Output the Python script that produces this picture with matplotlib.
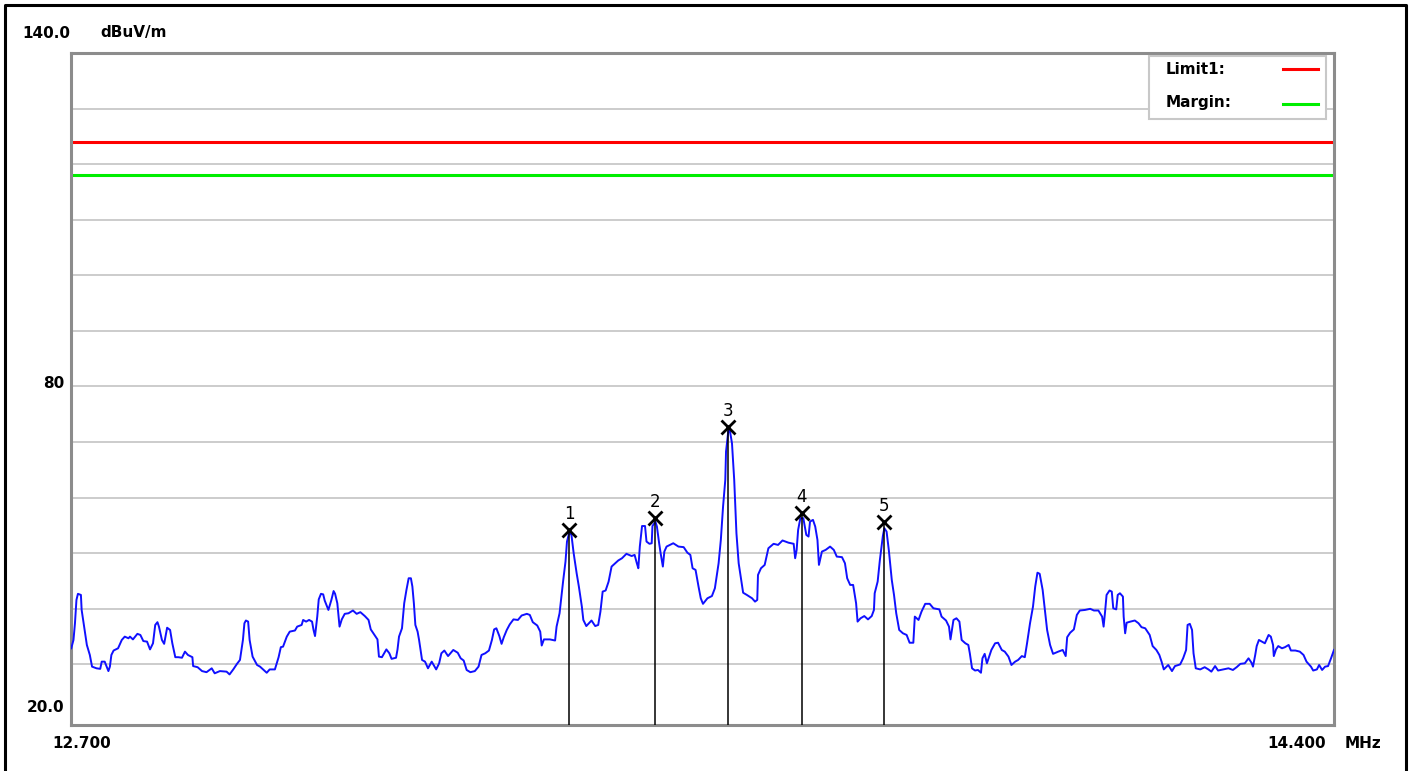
import matplotlib
matplotlib.use("Agg")
import matplotlib.pyplot as plt
from matplotlib.lines import Line2D
from matplotlib.patches import Rectangle

# spectrum trace (MHz, dBuV/m)
freq_mhz = [
    12.701, 12.704, 12.706, 12.708, 12.710, 12.714, 12.715, 12.718, 12.722, 12.726,
    12.729, 12.735, 12.740, 12.742, 12.746, 12.751, 12.753, 12.755, 12.758, 12.764,
    12.769, 12.773, 12.778, 12.780, 12.784, 12.790, 12.794, 12.798, 12.803, 12.807,
    12.811, 12.814, 12.817, 12.819, 12.823, 12.826, 12.828, 12.830, 12.834, 12.837,
    12.841, 12.845, 12.850, 12.854, 12.858, 12.864, 12.865, 12.871, 12.877, 12.883,
    12.890, 12.894, 12.901, 12.910, 12.914, 12.919, 12.924, 12.928, 12.932, 12.934,
    12.936, 12.939, 12.941, 12.945, 12.951, 12.955, 12.960, 12.964, 12.968, 12.975,
    12.980, 12.983, 12.986, 12.991, 12.995, 13.002, 13.005, 13.011, 13.013, 13.017,
    13.021, 13.025, 13.027, 13.029, 13.032, 13.034, 13.037, 13.040, 13.042, 13.047,
    13.051, 13.054, 13.056, 13.059, 13.062, 13.065, 13.069, 13.074, 13.080, 13.085,
    13.090, 13.096, 13.101, 13.104, 13.108, 13.113, 13.115, 13.119, 13.122, 13.125,
    13.129, 13.132, 13.138, 13.140, 13.142, 13.146, 13.149, 13.152, 13.155, 13.158,
    13.160, 13.162, 13.164, 13.167, 13.169, 13.173, 13.177, 13.181, 13.186, 13.192,
    13.196, 13.199, 13.203, 13.208, 13.215, 13.221, 13.225, 13.229, 13.233, 13.238,
    13.244, 13.249, 13.253, 13.258, 13.263, 13.267, 13.270, 13.273, 13.277, 13.280,
    13.283, 13.287, 13.291, 13.296, 13.302, 13.307, 13.314, 13.318, 13.322, 13.328,
    13.332, 13.334, 13.337, 13.345, 13.352, 13.354, 13.358, 13.361, 13.363, 13.366,
    13.368, 13.371, 13.374, 13.377, 13.381, 13.384, 13.388, 13.390, 13.394, 13.401,
    13.406, 13.410, 13.413, 13.416, 13.420, 13.424, 13.428, 13.433, 13.437, 13.442,
    13.448, 13.455, 13.459, 13.462, 13.464, 13.466, 13.469, 13.473, 13.475, 13.479,
    13.482, 13.483, 13.487, 13.489, 13.492, 13.494, 13.497, 13.499, 13.502, 13.511,
    13.518, 13.525, 13.530, 13.534, 13.537, 13.541, 13.545, 13.548, 13.551, 13.557,
    13.563, 13.567, 13.572, 13.575, 13.578, 13.581, 13.582, 13.585, 13.587, 13.590,
    13.593, 13.596, 13.599, 13.602, 13.605, 13.610, 13.617, 13.621, 13.624, 13.625,
    13.629, 13.634, 13.639, 13.646, 13.652, 13.658, 13.666, 13.673, 13.675, 13.677,
    13.679, 13.682, 13.686, 13.690, 13.693, 13.695, 13.699, 13.702, 13.705, 13.707,
    13.711, 13.716, 13.722, 13.727, 13.731, 13.738, 13.742, 13.745, 13.749, 13.753,
    13.757, 13.759, 13.763, 13.768, 13.773, 13.778, 13.781, 13.782, 13.786, 13.789,
    13.793, 13.795, 13.798, 13.801, 13.805, 13.808, 13.811, 13.815, 13.820, 13.825,
    13.829, 13.834, 13.836, 13.841, 13.845, 13.850, 13.856, 13.861, 13.869, 13.872,
    13.878, 13.882, 13.884, 13.888, 13.892, 13.896, 13.899, 13.904, 13.908, 13.910,
    13.913, 13.917, 13.921, 13.925, 13.927, 13.930, 13.933, 13.936, 13.939, 13.944,
    13.948, 13.953, 13.957, 13.962, 13.966, 13.971, 13.975, 13.980, 13.984, 13.987,
    13.991, 13.995, 13.998, 14.001, 14.004, 14.008, 14.011, 14.014, 14.018, 14.022,
    14.029, 14.035, 14.039, 14.041, 14.045, 14.050, 14.054, 14.058, 14.065, 14.072,
    14.077, 14.083, 14.088, 14.090, 14.092, 14.094, 14.098, 14.101, 14.103, 14.107,
    14.109, 14.112, 14.116, 14.117, 14.119, 14.121, 14.126, 14.132, 14.137, 14.141,
    14.146, 14.150, 14.152, 14.156, 14.161, 14.165, 14.168, 14.171, 14.177, 14.182,
    14.186, 14.193, 14.197, 14.201, 14.203, 14.206, 14.209, 14.211, 14.214, 14.220,
    14.226, 14.231, 14.235, 14.240, 14.244, 14.251, 14.258, 14.264, 14.269, 14.274,
    14.280, 14.285, 14.289, 14.291, 14.294, 14.296, 14.299, 14.303, 14.307, 14.312,
    14.315, 14.318, 14.319, 14.322, 14.325, 14.330, 14.334, 14.339, 14.342, 14.348,
    14.354, 14.359, 14.363, 14.369, 14.372, 14.377, 14.380, 14.384, 14.388, 14.392,
    14.396, 14.400,
]
level_dbuv = [
    32.9, 34.4, 37.4, 41.6, 42.7, 42.5, 39.8, 37.1, 33.5, 31.7,
    29.6, 29.3, 29.2, 30.5, 30.5, 28.8, 29.6, 31.7, 32.5, 32.9,
    34.4, 35.0, 34.7, 35.0, 34.5, 35.5, 35.3, 34.2, 34.1, 32.7,
    33.8, 37.1, 37.6, 36.8, 34.4, 33.7, 35.1, 36.6, 36.2, 33.8,
    31.3, 31.3, 31.2, 32.3, 31.7, 31.3, 29.7, 29.5, 28.8, 28.6,
    29.3, 28.4, 28.8, 28.7, 28.2, 29.1, 30.1, 30.8, 34.4, 37.4,
    37.9, 37.7, 34.4, 31.4, 29.9, 29.6, 29.0, 28.5, 29.1, 29.1,
    31.3, 33.1, 33.2, 35.0, 35.9, 36.1, 36.8, 37.1, 38.0, 37.7,
    38.0, 37.7, 36.2, 35.1, 38.6, 41.7, 42.7, 42.6, 41.5, 39.8,
    41.6, 43.2, 42.7, 41.0, 36.8, 38.1, 39.1, 39.2, 39.7, 39.1,
    39.4, 38.7, 38.0, 36.3, 35.5, 34.5, 31.4, 31.3, 32.0, 32.7,
    32.0, 31.0, 31.2, 32.7, 35.0, 36.5, 41.0, 43.4, 45.5, 45.5,
    44.0, 41.0, 37.1, 35.9, 34.4, 30.8, 30.5, 29.3, 30.5, 29.1,
    30.2, 32.0, 32.5, 31.5, 32.6, 32.1, 31.1, 30.7, 29.0, 28.6,
    28.8, 29.6, 31.7, 32.0, 32.5, 34.4, 36.3, 36.5, 35.1, 33.7,
    34.9, 36.2, 37.2, 38.1, 38.0, 38.8, 39.1, 38.9, 37.6, 37.0,
    35.9, 33.4, 34.5, 34.5, 34.3, 36.8, 39.2, 42.8, 45.2, 48.5,
    52.1, 53.7, 53.3, 50.0, 46.4, 44.0, 40.4, 38.0, 36.9, 37.9,
    36.9, 37.1, 39.5, 43.1, 43.3, 44.9, 47.6, 48.2, 48.7, 49.1,
    49.9, 49.5, 49.7, 48.2, 47.3, 51.2, 54.9, 54.9, 52.1, 51.7,
    51.8, 54.9, 55.7, 54.8, 51.8, 50.0, 47.6, 50.3, 51.2, 51.8,
    51.2, 51.1, 50.1, 49.7, 47.3, 47.0, 44.0, 41.9, 40.9, 41.9,
    42.3, 43.7, 48.2, 52.4, 58.4, 63.2, 68.3, 71.9, 72.2, 69.8,
    63.2, 53.6, 48.2, 45.5, 42.9, 42.5, 41.9, 41.3, 41.6, 46.1,
    47.3, 47.9, 50.9, 51.7, 51.5, 52.3, 51.9, 51.7, 49.1, 50.6,
    54.2, 56.3, 56.3, 53.3, 53.0, 55.7, 56.0, 54.8, 52.4, 47.9,
    50.3, 50.6, 51.2, 50.6, 49.4, 49.3, 48.2, 45.5, 44.3, 44.3,
    41.0, 37.7, 38.3, 38.7, 38.1, 38.7, 39.8, 42.8, 44.9, 48.8,
    53.1, 54.5, 53.9, 50.6, 45.2, 42.5, 39.2, 36.2, 35.6, 35.3,
    33.9, 33.9, 38.6, 38.0, 39.5, 40.9, 40.9, 40.1, 39.9, 38.6,
    37.9, 36.8, 34.5, 38.0, 38.3, 37.7, 34.4, 33.8, 33.5, 32.0,
    29.3, 28.9, 29.0, 28.5, 31.1, 31.9, 30.2, 31.4, 32.6, 33.8,
    33.9, 32.6, 32.3, 31.4, 29.9, 30.5, 30.8, 31.5, 31.3, 33.8,
    37.4, 40.4, 44.0, 46.5, 46.3, 43.4, 39.8, 36.2, 33.5, 31.9,
    32.3, 32.6, 31.5, 34.9, 35.7, 36.3, 38.9, 39.7, 39.8, 40.0,
    39.7, 39.7, 38.6, 36.8, 39.5, 42.5, 43.3, 43.1, 40.1, 39.9,
    42.5, 42.8, 42.2, 38.6, 35.6, 37.5, 37.7, 37.9, 37.4, 36.7,
    36.5, 35.7, 35.3, 33.3, 32.6, 31.7, 30.5, 29.1, 29.9, 28.8,
    29.7, 30.0, 31.1, 32.6, 37.1, 37.3, 36.2, 32.0, 29.3, 29.1,
    29.5, 29.1, 28.7, 29.7, 28.9, 29.1, 29.3, 29.0, 29.5, 30.1,
    30.2, 31.1, 30.3, 29.6, 31.7, 33.3, 34.4, 34.1, 33.8, 35.3,
    35.0, 33.5, 31.5, 32.7, 33.3, 32.9, 33.1, 33.5, 32.5, 32.5,
    32.3, 31.7, 30.5, 29.6, 28.9, 29.1, 29.9, 29.0, 29.6, 29.7,
    31.1, 32.6,
]

marker_freq = [13.371, 13.486, 13.584, 13.684, 13.795]
marker_level = [54.2, 56.3, 72.8, 57.2, 55.7]
marker_labels = ["1", "2", "3", "4", "5"]

limit1 = 124.0
margin = 118.0
y_min, y_max = 19.1, 140.0
f_min, f_max = 12.7, 14.4

W, H = 1411, 771
plt.rcParams['font.family'] = ['DejaVu Sans']

fig = plt.figure(figsize=(W / 100, H / 100), dpi=100)
fig.patch.set_facecolor('white')


def fx(px):
    return px / W


def fy(py):
    return 1 - py / H


ax = fig.add_axes([fx(70.5), fy(725), (1334 - 70.5) / W, (725 - 53) / H])
ax.set_xlim(f_min, f_max)
ax.set_ylim(y_min, y_max)
ax.set_xticks([])
ax.set_yticks([])
for sp in ax.spines.values():
    sp.set_color('#8c8c8c')
    sp.set_linewidth(2.2)

for y in range(30, 140, 10):
    ax.axhline(y, color='#cccccc', lw=1.4, zorder=1)

ax.axhline(limit1, color='#ff0000', lw=2.2, zorder=2)
ax.axhline(margin, color='#00ee00', lw=2.2, zorder=2)

ax.plot(freq_mhz, level_dbuv, color='#1010ff', lw=1.4, zorder=3)

# markers with drop lines
ax.vlines(marker_freq, y_min, marker_level, color='black', lw=1.1, zorder=4)
ax.plot(marker_freq, marker_level, 'x', color='black', ms=10, mew=2, zorder=5)
for f, l, s in zip(marker_freq, marker_level, marker_labels):
    ax.annotate(s, (f, l), xytext=(0, 5), textcoords='offset points',
                ha='center', va='bottom', fontsize=12, zorder=6)

# legend box
leg = Rectangle((fx(1149), fy(119)), (1326 - 1149) / W, (119 - 56) / H,
                transform=fig.transFigure, facecolor='white', edgecolor='#c8c8c8',
                lw=1.5, zorder=10, clip_on=False)
ax.add_patch(leg)
ax.add_line(Line2D([fx(1283), fx(1318)], [fy(69), fy(69)], transform=fig.transFigure,
                   color='#ff0000', lw=2.2, zorder=11, clip_on=False))
ax.add_line(Line2D([fx(1283), fx(1318)], [fy(104), fy(104)], transform=fig.transFigure,
                   color='#00ee00', lw=2.2, zorder=11, clip_on=False))
fig.text(fx(1166), fy(69), 'Limit1:', ha='left', va='center', fontsize=11,
         fontweight='bold', zorder=12)
fig.text(fx(1166), fy(103), 'Margin:', ha='left', va='center', fontsize=11,
         fontweight='bold', zorder=12)

# axis annotations
bold = dict(fontsize=11, fontweight='bold', va='center')
fig.text(fx(22), fy(33), '140.0', ha='left', **bold)
fig.text(fx(100), fy(33), 'dBuV/m', ha='left', **bold)
fig.text(fx(64), fy(383), '80', ha='right', **bold)
fig.text(fx(64), fy(707), '20.0', ha='right', **bold)
fig.text(fx(52), fy(743), '12.700', ha='left', **bold)
fig.text(fx(1267), fy(743), '14.400', ha='left', **bold)
fig.text(fx(1345), fy(743), 'MHz', ha='left', **bold)

# outer frame
fig.add_artist(Line2D([fx(5), fx(5), fx(1406), fx(1406)], [0, fy(5), fy(5), 0],
                      transform=fig.transFigure, color='black', lw=2.2))

fig.savefig('out.png', dpi=100)
